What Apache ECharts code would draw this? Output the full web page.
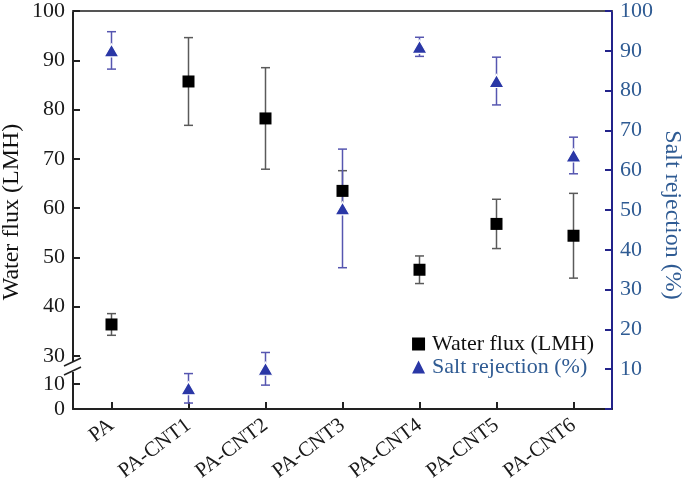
<!DOCTYPE html>
<html>
<head>
<meta charset="utf-8">
<script src="https://cdn.jsdelivr.net/npm/echarts@6/dist/echarts.min.js"></script>
<style>html,body{margin:0;padding:0;background:#fff}#c{width:685px;height:488px}</style>
</head>
<body>
<div id="c"></div>
<script>
const categories = ['PA', 'PA-CNT1', 'PA-CNT2', 'PA-CNT3', 'PA-CNT4', 'PA-CNT5', 'PA-CNT6'];
const fluxValues = [36.4, 85.7, 78.2, 63.5, 47.5, 56.8, 54.4];
const fluxErrors = [2.2, 8.9, 10.3, 4.1, 2.8, 5.0, 8.6];
const rejectionValues = [90.1, 5.2, 10.1, 50.4, 91.0, 82.4, 63.7];
const rejectionErrors = [4.7, 3.7, 4.1, 14.9, 2.4, 6.0, 4.6];
const leftUpperTicks = [30, 100, 10];   // min, max, interval
const leftLowerTicks = [0, 10];
const rightTicks = [0, 100, 10];

const FONT = 'Liberation Serif';
const NAVY = '#23238a';
const BLUE_TXT = '#2f5b93';
const TRI = '#2a37a6';
const BLUE_ERR = '#5656b0';

const chart = echarts.init(document.getElementById('c'), null, {renderer: 'canvas'});

function errRender(color) {
  return function (params, api) {
    const x = api.value(0), v = api.value(1), e = api.value(2);
    const t = api.coord([x, v + e]);
    const b = api.coord([x, v - e]);
    const hw = 4.5;
    const st = {stroke: color, lineWidth: 1.5};
    return {
      type: 'group',
      children: [
        {type: 'line', shape: {x1: t[0], y1: t[1], x2: b[0], y2: b[1]}, style: st},
        {type: 'line', shape: {x1: t[0] - hw, y1: t[1], x2: t[0] + hw, y2: t[1]}, style: st},
        {type: 'line', shape: {x1: b[0] - hw, y1: b[1], x2: b[0] + hw, y2: b[1]}, style: st}
      ]
    };
  };
}

const L = 73, W = 539;
const gTop = 11, gBottom = 409;
const upBottom = 356, lowTop = 379;

const option = {
  animation: false,
  grid: [
    {left: L, width: W, top: gTop, height: gBottom - gTop},
    {left: L, width: W, top: gTop, height: upBottom - gTop},
    {left: L, width: W, top: lowTop, height: gBottom - lowTop}
  ],
  xAxis: [
    {
      gridIndex: 0, type: 'category', data: categories, position: 'bottom', boundaryGap: true,
      axisLine: {show: true, lineStyle: {color: '#222', width: 2}},
      axisTick: {show: true, inside: true, alignWithLabel: true, length: 7, lineStyle: {color: '#222', width: 2}},
      axisLabel: {rotate: 37, margin: 14, fontFamily: FONT, fontSize: 21, color: '#1a1a1a', interval: 0},
      splitLine: {show: false}
    },
    {gridIndex: 1, type: 'category', data: categories, show: false, boundaryGap: true},
    {gridIndex: 2, type: 'category', data: categories, show: false, boundaryGap: true},
    {
      gridIndex: 0, type: 'category', data: categories, position: 'top',
      axisLine: {show: true, lineStyle: {color: '#555', width: 2}},
      axisTick: {show: false}, axisLabel: {show: false}, splitLine: {show: false}
    }
  ],
  yAxis: [
    {
      gridIndex: 0, type: 'value', position: 'right', min: rightTicks[0], max: rightTicks[1], interval: rightTicks[2],
      axisLine: {show: true, lineStyle: {color: NAVY, width: 2}},
      axisTick: {show: true, inside: true, length: 7, lineStyle: {color: NAVY, width: 2}},
      axisLabel: {margin: 8, fontFamily: FONT, fontSize: 22, color: BLUE_TXT, formatter: v => v === 0 ? '' : String(v)},
      splitLine: {show: false}
    },
    {
      gridIndex: 1, type: 'value', position: 'left', min: leftUpperTicks[0], max: leftUpperTicks[1], interval: leftUpperTicks[2],
      axisLine: {show: true, lineStyle: {color: '#222', width: 2}},
      axisTick: {show: true, inside: true, length: 7, lineStyle: {color: '#222', width: 2}},
      axisLabel: {margin: 8, fontFamily: FONT, fontSize: 22, color: '#1a1a1a'},
      splitLine: {show: false}
    },
    {
      gridIndex: 2, type: 'value', position: 'left', min: 0, max: 12, interval: 10,
      axisLine: {show: true, lineStyle: {color: '#222', width: 2}},
      axisTick: {show: true, inside: true, length: 7, customValues: leftLowerTicks, lineStyle: {color: '#222', width: 2}},
      axisLabel: {margin: 8, fontFamily: FONT, fontSize: 22, color: '#1a1a1a', customValues: leftLowerTicks,
        formatter: v => (v % 10 === 0 ? String(v) : '')},
      splitLine: {show: false}
    }
  ],
  legend: {
    orient: 'vertical', right: 86, top: 328, itemWidth: 13, itemHeight: 13, itemGap: 1,
    textStyle: {fontFamily: FONT, fontSize: 22, padding: [0, 0, 0, 2]},
    data: [
      {name: 'Water flux (LMH)', icon: 'rect', itemStyle: {borderWidth: 0, opacity: 1}, textStyle: {color: '#111'}},
      {name: 'Salt rejection (%)', icon: 'triangle', itemStyle: {borderWidth: 0, opacity: 1}, textStyle: {color: BLUE_TXT}}
    ]
  },
  series: [
    {
      type: 'custom', name: 'fluxErr', xAxisIndex: 1, yAxisIndex: 1, z: 3,
      renderItem: errRender('#5a5a5a'),
      data: categories.map((c, i) => [i, fluxValues[i], fluxErrors[i]])
    },
    {
      type: 'custom', name: 'rejErr', xAxisIndex: 0, yAxisIndex: 0, z: 3,
      renderItem: errRender(BLUE_ERR),
      data: categories.map((c, i) => [i, rejectionValues[i], rejectionErrors[i]])
    },
    {
      type: 'scatter', name: 'Water flux (LMH)', xAxisIndex: 1, yAxisIndex: 1, z: 5,
      symbol: 'rect', symbolSize: 12,
      itemStyle: {color: '#000', opacity: 1},
      data: fluxValues.map((v, i) => [i, v])
    },
    {
      type: 'scatter', name: 'Salt rejection (%)', xAxisIndex: 0, yAxisIndex: 0, z: 5,
      symbol: 'triangle', symbolSize: [15, 13],
      itemStyle: {color: TRI, opacity: 1, borderColor: '#fff', borderWidth: 1.2},
      data: rejectionValues.map((v, i) => [i, v])
    }
  ],
  graphic: [
    {type: 'text', x: 12, y: 212, rotation: Math.PI / 2, z: 10,
      style: {text: 'Water flux (LMH)', font: '24px "Liberation Serif"', fill: '#111', align: 'center', verticalAlign: 'middle'}},
    {type: 'text', x: 672, y: 215, rotation: -Math.PI / 2, z: 10,
      style: {text: 'Salt rejection (%)', font: '24px "Liberation Serif"', fill: BLUE_TXT, align: 'center', verticalAlign: 'middle'}},
    {type: 'line', z: 10, shape: {x1: L, y1: upBottom, x2: L, y2: 362}, style: {stroke: '#222', lineWidth: 2}},
    {type: 'line', z: 10, shape: {x1: L, y1: 372, x2: L, y2: lowTop}, style: {stroke: '#222', lineWidth: 2}},
    {type: 'line', z: 10, shape: {x1: 64, y1: 366, x2: 81, y2: 358}, style: {stroke: '#222', lineWidth: 1.5}},
    {type: 'line', z: 10, shape: {x1: 64, y1: 375, x2: 81, y2: 367}, style: {stroke: '#222', lineWidth: 1.5}}
  ]
};
chart.setOption(option);
</script>
</body>
</html>
